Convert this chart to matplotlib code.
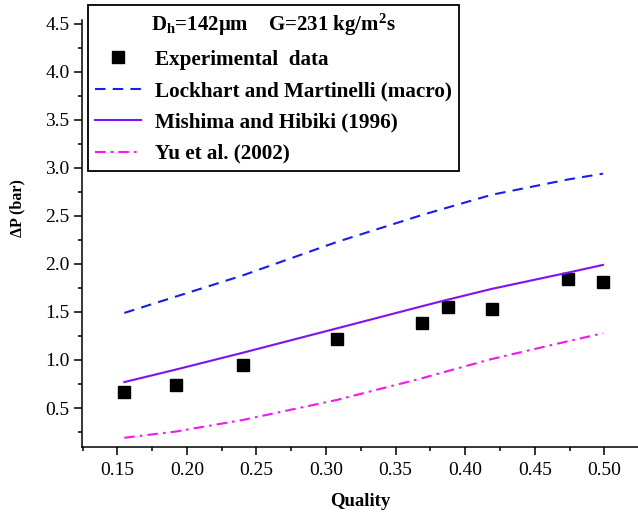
import matplotlib
matplotlib.use("Agg")
import matplotlib.pyplot as plt
from matplotlib.ticker import MultipleLocator

# quality values (experimental points and model curves share them)
quality = [0.155, 0.192, 0.240, 0.308, 0.369, 0.388, 0.419, 0.474, 0.499]
dp_exp = [0.664, 0.736, 0.945, 1.222, 1.382, 1.549, 1.528, 1.844, 1.809]
dp_lm = [1.49, 1.66, 1.88, 2.23, 2.51, 2.59, 2.72, 2.88, 2.94]
dp_mh = [0.77, 0.90, 1.075, 1.33, 1.56, 1.63, 1.74, 1.91, 1.99]
dp_yu = [0.19, 0.255, 0.375, 0.585, 0.81, 0.887, 1.01, 1.196, 1.278]

labels = [
    "Experimental  data",
    "Lockhart and Martinelli (macro)",
    "Mishima and Hibiki (1996)",
    "Yu et al. (2002)",
]
legend_title = r"D$_\mathregular{h}$=142μm    G=231 kg/m$^\mathregular{2}$s"

plt.rcParams["font.family"] = ["Liberation Serif", "DejaVu Serif"]
plt.rcParams["mathtext.fontset"] = "custom"
plt.rcParams["mathtext.rm"] = "Liberation Serif:bold"
plt.rcParams["mathtext.it"] = "Liberation Serif:bold"
plt.rcParams["mathtext.bf"] = "Liberation Serif:bold"

fig = plt.figure(figsize=(6.38, 5.13), dpi=100)
ax = fig.add_axes([0.1285, 0.1296, 0.8715, 0.8314])

ax.plot(quality, dp_exp, "s", color="black", markersize=8.8, label=labels[0])
ax.plot(quality, dp_lm, color="#1a1aff", lw=1.5, linestyle=(0, (5, 3.5)), label=labels[1])
ax.plot(quality, dp_mh, color="#8010ff", lw=1.5, label=labels[2])
ax.plot(quality, dp_yu, color="#ff10ff", lw=1.5, linestyle=(0, (5, 2.5, 1.2, 2.5)), label=labels[3])

ax.set_xlim(0.1246, 0.5242)
ax.set_ylim(0.099, 4.54)
ax.xaxis.set_major_locator(MultipleLocator(0.05))
ax.xaxis.set_minor_locator(MultipleLocator(0.025))
ax.yaxis.set_major_locator(MultipleLocator(0.5))
ax.yaxis.set_minor_locator(MultipleLocator(0.25))
ax.xaxis.set_major_formatter(plt.FormatStrFormatter("%.2f"))
ax.yaxis.set_major_formatter(plt.FormatStrFormatter("%.1f"))

ax.spines["top"].set_visible(False)
ax.spines["right"].set_visible(False)
for s in ("left", "bottom"):
    ax.spines[s].set_linewidth(1.1)
ax.tick_params(which="major", direction="out", length=5.5, width=1.1, labelsize=14)
ax.tick_params(which="minor", direction="out", length=3.2, width=1.1)
ax.tick_params(axis="x", which="major", pad=5.5)

ax.set_xlabel("Quality", fontsize=13.5, fontweight="bold", labelpad=10)
ax.set_ylabel("ΔP (bar)", fontsize=11.5, fontweight="bold")
ax.yaxis.set_label_coords(-0.1025, 0.56)

leg = ax.legend(
    loc="upper left",
    bbox_to_anchor=(0.138, 0.990),
    bbox_transform=fig.transFigure,
    title=legend_title,
    prop={"weight": "bold", "size": 15.2},
    title_fontproperties={"weight": "bold", "size": 15},
    frameon=True,
    fancybox=False,
    edgecolor="black",
    framealpha=1,
    handlelength=2.2,
    handletextpad=0.66,
    labelspacing=0.54,
    borderpad=0.33,
    borderaxespad=0,
)
leg.get_frame().set_linewidth(1.3)

fig.savefig("out.png", dpi=100)
